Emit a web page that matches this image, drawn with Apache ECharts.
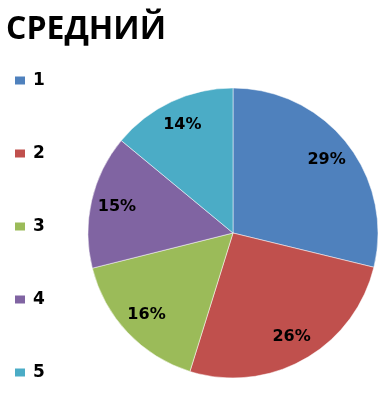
<!DOCTYPE html>
<html>
<head>
<meta charset="utf-8">
<script src="https://cdn.jsdelivr.net/npm/echarts@6/dist/echarts.min.js"></script>
<style>html,body{margin:0;padding:0;background:#fff}#c{width:388px;height:397px}</style>
</head>
<body>
<div id="c"></div>
<script>
var titleText = 'СРЕДНИЙ';
var categories = ['1', '2', '3', '4', '5'];
var values = [28.8, 26.0, 16.3, 14.9, 14.0];
var colors = ['#4F81BD', '#C0504D', '#9BBB59', '#8064A2', '#4BACC6'];

var data = categories.map(function (c, i) {
  return { name: c, value: values[i], itemStyle: { color: colors[i] } };
});

var chart = echarts.init(document.getElementById('c'), null, { renderer: 'canvas' });
chart.setOption({
  animation: false,
  backgroundColor: '#ffffff',
  title: {
    text: titleText,
    left: 6,
    top: 14,
    padding: 0,
    textStyle: { fontFamily: 'Open Sans', fontWeight: 'bold', fontSize: 32, color: '#000' }
  },
  legend: {
    orient: 'vertical',
    left: 13,
    top: 72,
    height: 390,
    padding: 0,
    icon: 'rect',
    itemWidth: 12,
    itemHeight: 10,
    itemGap: 56,
    data: categories,
    textStyle: { fontFamily: 'DejaVu Sans', fontWeight: 'bold', fontSize: 17, color: '#000', padding: [0, 0, 0, 2] }
  },
  series: [
    {
      type: 'pie',
      center: [233, 233],
      radius: [0, 145],
      startAngle: 90,
      clockwise: true,
      silent: true,
      percentPrecision: 0,
      label: { show: false },
      labelLine: { show: false },
      itemStyle: { borderColor: '#ffffff', borderWidth: 0.5 },
      data: data
    },
    {
      type: 'pie',
      center: [233, 233],
      radius: [87, 145],
      startAngle: 90,
      clockwise: true,
      silent: true,
      percentPrecision: 0,
      legendHoverLink: false,
      itemStyle: { color: 'rgba(0,0,0,0)', borderWidth: 0 },
      label: {
        show: true,
        position: 'inside',
        formatter: '{d}%',
        fontFamily: 'DejaVu Sans',
        fontWeight: 'bold',
        fontSize: 16,
        color: '#000'
      },
      labelLine: { show: false },
      data: categories.map(function (c, i) { return { name: c, value: values[i] }; })
    }
  ]
});
</script>
</body>
</html>
